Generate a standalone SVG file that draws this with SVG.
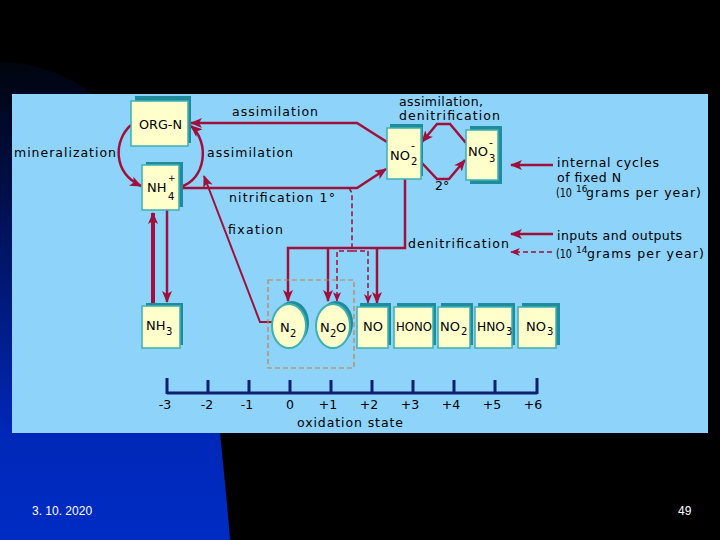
<svg xmlns="http://www.w3.org/2000/svg" width="720" height="540" viewBox="0 0 720 540">
<defs>
<linearGradient id="bg" x1="0" y1="60" x2="0" y2="540" gradientUnits="userSpaceOnUse">
<stop offset="0" stop-color="#00040c"/>
<stop offset="0.3" stop-color="#001050"/>
<stop offset="0.78" stop-color="#0028b8"/>
<stop offset="1" stop-color="#002cc4"/>
</linearGradient>
<marker id="ah" markerUnits="userSpaceOnUse" markerWidth="12" markerHeight="10" viewBox="0 0 12 10" refX="11" refY="5" orient="auto">
<path d="M0,0 L12,5 L0,10 L3,5 Z" fill="#a0103c"/>
</marker>
<marker id="ahs" markerUnits="userSpaceOnUse" markerWidth="10" markerHeight="8" viewBox="0 0 12 10" refX="11" refY="5" orient="auto">
<path d="M0,0 L12,5 L0,10 L3,5 Z" fill="#a0103c"/>
</marker>
<style>
.lbl{font-family:"DejaVu Sans","Liberation Sans",sans-serif;font-size:12.5px;fill:#000}
.nd{font-family:"DejaVu Sans","Liberation Sans",sans-serif;font-size:13px;fill:#000}
.s{font-size:10px}
.p{font-size:9px}
.ax{font-family:"DejaVu Sans","Liberation Sans",sans-serif;font-size:12.5px;fill:#000;text-anchor:middle}
.box{fill:#ffffcc;stroke:#3fb0b0;stroke-width:1.5}
.sh{fill:#1e8c9c}
.ln{fill:none;stroke:#a0103c;stroke-width:2.5}
.dl{fill:none;stroke:#a0103c;stroke-width:1.5;stroke-dasharray:5,3}
.foot{font-family:"Liberation Sans",Arial,sans-serif;font-size:12px;fill:#fff}
</style>
</defs>
<rect width="720" height="540" fill="#000"/>
<path d="M0,62 C40,62 72,78 92,94 L220,433 Q226,490 230,540 L0,540 Z" fill="url(#bg)"/>
<rect x="12" y="94" width="696" height="339" fill="#8ed3fa"/>

<g id="connectors">
<path class="ln" d="M131,125 C114,140 112,172 141,186" marker-end="url(#ah)"/>
<path class="ln" d="M180,187 C206,180 210,142 191,126" marker-end="url(#ah)"/>
<path class="ln" d="M387,142 L357,123 L191,123" marker-end="url(#ah)"/>
<path class="ln" d="M180,188 L357,188 L386,169" marker-end="url(#ah)"/>
<path class="ln" d="M466,143 L450,124 L437,124 L422,142" marker-end="url(#ah)"/>
<path class="ln" d="M421,162 L437,179 L449,179 L465,160" marker-end="url(#ah)"/>
<path class="ln" d="M405,179 L405,248 L288,248 L288,301" marker-end="url(#ah)"/>
<path class="ln" d="M328,248 L328,301" marker-end="url(#ah)"/>
<path class="ln" d="M377,248 L377,303" marker-end="url(#ah)"/>
<path class="dl" d="M349,188 L352,193 L352,251"/>
<path class="dl" d="M352,251 L337,251 L337,301" marker-end="url(#ahs)"/>
<path class="dl" d="M352,251 L368,251 L368,303" marker-end="url(#ahs)"/>
<path class="ln" style="stroke-width:4" d="M153,303 L153,213" marker-end="url(#ah)"/>
<path class="ln" d="M167,210 L167,302" marker-end="url(#ah)"/>
<path class="ln" style="stroke-width:2" d="M272,322 L260,322 L204,176" marker-end="url(#ah)"/>
<path class="ln" d="M553,165 L511,165" marker-end="url(#ah)"/>
<path class="ln" d="M553,234 L511,234" marker-end="url(#ah)"/>
<path class="dl" d="M552,252 L511,252" marker-end="url(#ahs)"/>
<rect x="268" y="280" width="86" height="88" fill="none" stroke="#c0804a" stroke-width="1.2" stroke-dasharray="5,3"/>
</g>

<g id="ORG-N">
<rect class="sh" x="135" y="96" width="56" height="47"/>
<rect class="box" x="131" y="101" width="57" height="45"/>
<text class="nd" x="139" y="129" textLength="43" lengthAdjust="spacingAndGlyphs">ORG-N</text>
</g>
<g id="NH4">
<rect class="sh" x="146" y="162" width="37" height="45"/>
<rect class="box" x="142" y="165" width="37" height="45"/>
<text class="nd" x="147" y="192">NH<tspan class="p" x="168" y="181">+</tspan><tspan class="s" x="168" y="200">4</tspan></text>
</g>
<g id="NO2m">
<rect class="sh" x="390" y="124" width="33" height="52"/>
<rect class="box" x="387" y="128" width="34" height="51"/>
<text class="nd" x="390" y="160">NO<tspan x="411" y="149" style="font-size:11px">-</tspan><tspan class="s" x="411" y="165">2</tspan></text>
</g>
<g id="NO3m">
<rect class="sh" x="470" y="126" width="32" height="58"/>
<rect class="box" x="466" y="130" width="32" height="50"/>
<text class="nd" x="468" y="156">NO<tspan x="489" y="146" style="font-size:11px">-</tspan><tspan class="s" x="489" y="162">3</tspan></text>
</g>
<g id="NH3">
<rect class="sh" x="146" y="303" width="37" height="42"/>
<rect class="box" x="142" y="306" width="38" height="42"/>
<text class="nd" x="146" y="330">NH<tspan class="s" x="166" y="335">3</tspan></text>
</g>
<g id="N2">
<ellipse cx="292" cy="323" rx="17" ry="22" fill="#1e8c9c"/>
<ellipse cx="289" cy="326" rx="17" ry="22" fill="#ffffcc" stroke="#3fb0b0" stroke-width="2"/>
<text class="nd" x="280" y="332">N<tspan class="s" x="290" y="337">2</tspan></text>
</g>
<g id="N2O">
<ellipse cx="336" cy="323" rx="17" ry="22" fill="#1e8c9c"/>
<ellipse cx="333" cy="326" rx="17" ry="22" fill="#ffffcc" stroke="#3fb0b0" stroke-width="2"/>
<text class="nd" x="320" y="332">N<tspan class="s" x="330" y="337">2</tspan><tspan x="336" y="332">O</tspan></text>
</g>
<g id="NO">
<rect class="sh" x="360" y="303" width="31" height="42"/>
<rect class="box" x="357" y="307" width="31" height="41"/>
<text class="nd" x="363" y="331">NO</text>
</g>
<g id="HONO">
<rect class="sh" x="397" y="303" width="39" height="42"/>
<rect class="box" x="394" y="307" width="39" height="41"/>
<text class="nd" x="396" y="331" textLength="36" lengthAdjust="spacingAndGlyphs">HONO</text>
</g>
<g id="NO2">
<rect class="sh" x="441" y="303" width="32" height="42"/>
<rect class="box" x="438" y="307" width="32" height="41"/>
<text class="nd" x="440" y="331">NO<tspan class="s" x="461" y="335">2</tspan></text>
</g>
<g id="HNO3">
<rect class="sh" x="478" y="303" width="37" height="42"/>
<rect class="box" x="475" y="307" width="37" height="41"/>
<text class="nd" x="477" y="331"><tspan textLength="28" lengthAdjust="spacingAndGlyphs">HNO</tspan><tspan class="s" x="506" y="335">3</tspan></text>
</g>
<g id="NO3">
<rect class="sh" x="522" y="303" width="38" height="42"/>
<rect class="box" x="518" y="307" width="38" height="41"/>
<text class="nd" x="526" y="331">NO<tspan class="s" x="547" y="335">3</tspan></text>
</g>

<g id="labels">
<text class="lbl" x="232" y="116" textLength="86">assimilation</text>
<text class="lbl" x="14" y="157" textLength="102">mineralization</text>
<text class="lbl" x="207" y="157" textLength="86">assimilation</text>
<text class="lbl" x="229" y="202" textLength="106">nitrification 1°</text>
<text class="lbl" x="228" y="234" textLength="55">fixation</text>
<text class="lbl" x="399" y="106" textLength="84">assimilation,</text>
<text class="lbl" x="399" y="120" textLength="101">denitrification</text>
<text class="lbl" x="435" y="190">2°</text>
<text class="lbl" x="408" y="248" textLength="101">denitrification</text>
<text class="lbl" x="557" y="167" textLength="102">internal cycles</text>
<text class="lbl" x="557" y="182" textLength="64">of fixed N</text>
<text class="lbl" x="556" y="197"><tspan textLength="16" lengthAdjust="spacingAndGlyphs">(10</tspan><tspan class="p" x="576" y="192">16</tspan><tspan x="586" y="197" textLength="115">grams per year)</tspan></text>
<text class="lbl" x="557" y="240" textLength="125">inputs and outputs</text>
<text class="lbl" x="556" y="258"><tspan textLength="16" lengthAdjust="spacingAndGlyphs">(10</tspan><tspan class="p" x="576" y="253">14</tspan><tspan x="587" y="258" textLength="117">grams per year)</tspan></text>
</g>

<g id="axis">
<path d="M167,393 L537,393 M167,378 L167,394 M208,380 L208,393 M249,380 L249,393 M290,380 L290,393 M331,380 L331,393 M372,380 L372,393 M413,380 L413,393 M454,380 L454,393 M495,380 L495,393 M537,378 L537,394" fill="none" stroke="#102070" stroke-width="3"/>
<text class="ax" x="165" y="409">-3</text>
<text class="ax" x="207" y="409">-2</text>
<text class="ax" x="247" y="409">-1</text>
<text class="ax" x="290" y="409">0</text>
<text class="ax" x="328" y="409">+1</text>
<text class="ax" x="369" y="409">+2</text>
<text class="ax" x="410" y="409">+3</text>
<text class="ax" x="451" y="409">+4</text>
<text class="ax" x="492" y="409">+5</text>
<text class="ax" x="533" y="409">+6</text>
<text class="lbl" x="297" y="427" textLength="106">oxidation state</text>
</g>

<text class="foot" x="32" y="515">3. 10. 2020</text>
<text class="foot" x="678" y="515">49</text>
</svg>
